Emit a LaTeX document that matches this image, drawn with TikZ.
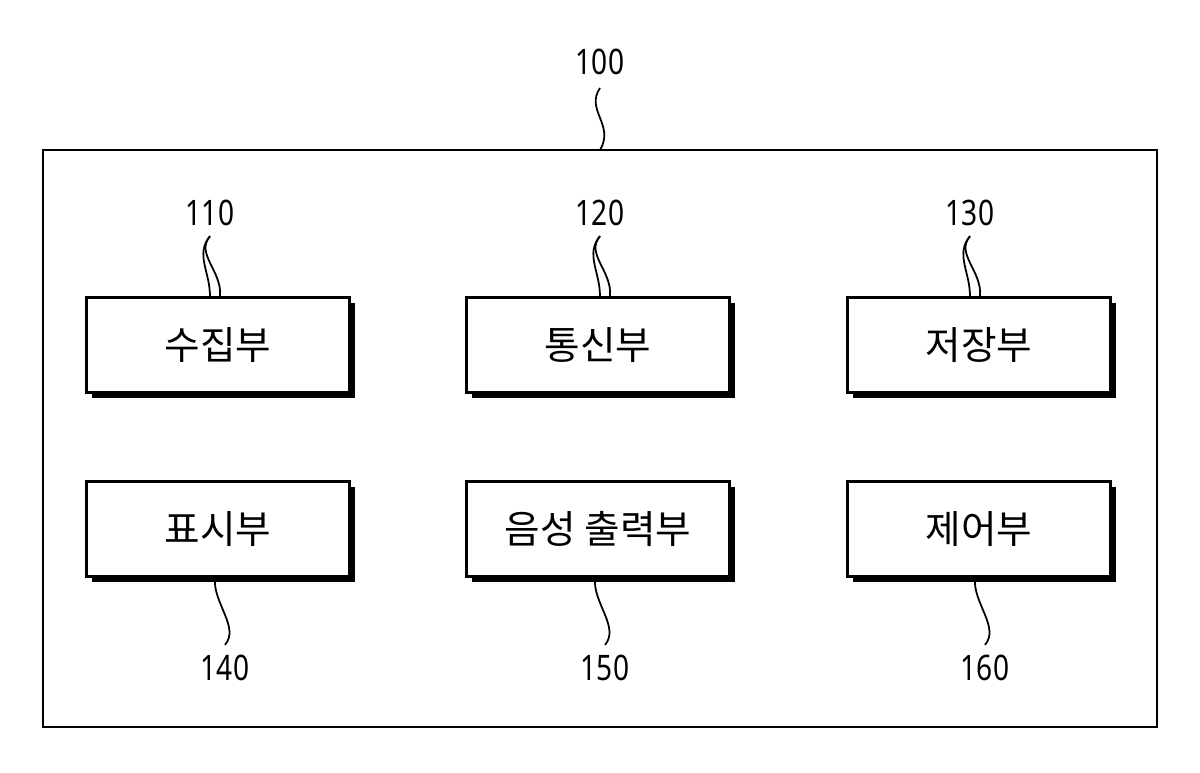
\documentclass[tikz,border=0pt]{standalone}
\usepackage{fontspec}
\setmainfont{Noto Sans}
\newfontfamily\kr{Noto Sans CJK KR}
\usetikzlibrary{positioning,shadows}

\begin{document}
\begin{tikzpicture}[
    x=0.02cm, y=-0.02cm,
    unit/.style={rectangle, draw, line width=1.3pt, fill=white, minimum width=5.26cm, minimum height=1.9cm,
      font=\kr\fontsize{22}{24}\selectfont,
      drop shadow={shadow xshift=0.11cm, shadow yshift=-0.11cm, fill=black, opacity=1}},
    num/.style={font=\fontsize{20}{22}\selectfont\addfontfeature{}, xscale=0.8},
    lead/.style={line width=1pt}
]
\useasboundingbox (0,0) rectangle (1200,772);

% outer frame
\draw[line width=1.3pt] (43,150) rectangle (1157,727);
\node[num] (n100) at (600,62) {100};
\draw[lead] (600,88) .. controls (585,110) and (615,125) .. (600,150);

% units
\node[unit] (collect) at (218,345) {수집부};
\node[unit] (comm) at (598,345) {통신부};
\node[unit] (store) at (979,345) {저장부};
\node[unit] (display) at (218,529) {표시부};
\node[unit] (voice) at (598,529) {음성 출력부};
\node[unit] (control) at (979,529) {제어부};

% reference numbers, top row
\node[num] (n110) at (210,213) {110};
\node[num] (n120) at (600,213) {120};
\node[num] (n130) at (970,213) {130};
\foreach \n/\u in {n110/collect, n120/comm, n130/store}
  \draw[lead] (\n.south) ++(0,4) .. controls +(-15,18) and +(0,-25) .. (\u.north -| \n.south) ++(0,0) ;
\foreach \n/\u in {n110/collect, n120/comm, n130/store}
  \draw[lead] ([yshift=-0.08cm]\n.south) .. controls +(-0.3cm,-0.35cm) and +(0.05cm,0.5cm) .. ([xshift=0.2cm]\u.north -| \n.south);

% reference numbers, bottom row
\node[num] (n140) at (225,668) {140};
\node[num] (n150) at (605,668) {150};
\node[num] (n160) at (985,668) {160};
\foreach \n/\u in {n140/display, n150/voice, n160/control}
  \draw[lead] ([xshift=-0.2cm]\u.south -| \n.north) .. controls +(-0.05cm,-0.5cm) and +(0.3cm,0.35cm) .. ([yshift=0.08cm]\n.north);
\end{tikzpicture}
\end{document}
